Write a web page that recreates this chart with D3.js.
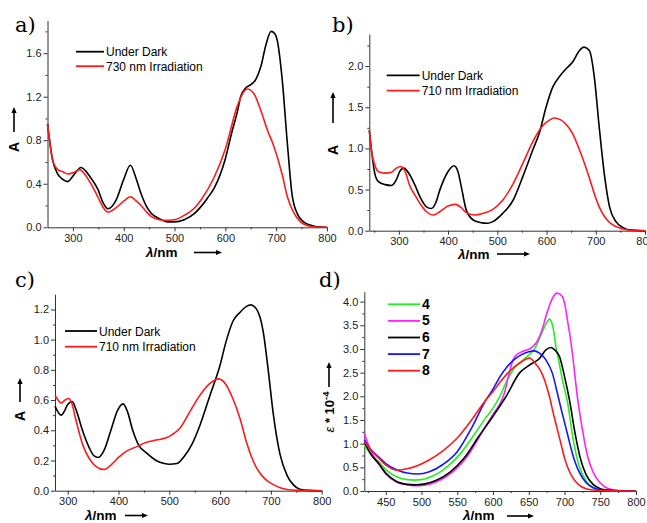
<!DOCTYPE html>
<html>
<head>
<meta charset="utf-8">
<script src="https://cdn.jsdelivr.net/npm/d3@7"></script>
<style>
body { margin: 0; background: #fff; }
svg { display: block; font-family: "Liberation Sans", Arial, sans-serif; }
.tick text { font-size: 11px; fill: #222; }
.domain, .tick line { stroke: #333; }
</style>
</head>
<body>
<div id="graph"></div>
<script>
"use strict";

let width = 647,
    height = 523;

// ---- panel a : 730 nm irradiation ----
const aDarkNm = [250,260,270,280,290,300,316,333,349,360,369,385,400,413,425,434,445,454,470,486,500,519,540,552,565,578,600,612,624,630,640,650,660,670,680,690,697,702,712,722,731,741,754,767,780,800];
const aDarkA  = [0.95,0.62,0.49,0.44,0.42,0.47,0.55,0.47,0.35,0.22,0.17,0.25,0.44,0.57,0.44,0.31,0.19,0.13,0.08,0.05,0.05,0.07,0.13,0.19,0.27,0.36,0.63,0.86,1.07,1.20,1.28,1.31,1.36,1.48,1.68,1.80,1.78,1.72,1.35,0.77,0.31,0.13,0.05,0.02,0.005,0];
const aIrrNm  = [250,260,270,280,290,300,313,333,349,360,369,385,400,413,425,434,445,454,470,480,500,519,540,552,578,600,624,637,643,656,670,683,695,712,722,735,748,767,780,800];
const aIrrA   = [0.95,0.62,0.53,0.51,0.49,0.50,0.53,0.42,0.28,0.18,0.14,0.18,0.24,0.28,0.24,0.20,0.14,0.10,0.07,0.065,0.07,0.11,0.18,0.25,0.46,0.72,1.12,1.25,1.27,1.23,1.07,0.89,0.75,0.48,0.28,0.13,0.05,0.01,0.003,0];
const aLegend = ["Under Dark", "730 nm Irradiation"];

// ---- panel b : 710 nm irradiation ----
const bDarkNm = [240,245,251,258,272,285,295,302,310,322,333,343,356,366,375,383,400,412,420,427,437,451,465,480,491,511,532,552,572,586,599,613,626,640,653,667,676,687,697,707,718,728,741,755,768,800];
const bDarkA  = [1.22,0.95,0.70,0.60,0.56,0.55,0.62,0.72,0.76,0.68,0.55,0.41,0.29,0.27,0.34,0.49,0.72,0.79,0.72,0.53,0.25,0.13,0.10,0.09,0.11,0.21,0.37,0.66,0.98,1.20,1.50,1.75,1.87,1.97,2.05,2.19,2.23,2.19,1.87,1.26,0.66,0.29,0.11,0.04,0.01,0];
const bIrrNm  = [240,245,251,258,272,285,295,303,312,322,333,343,356,370,383,400,415,427,437,455,471,491,511,532,552,572,590,605,615,628,640,653,667,677,687,697,707,718,728,741,755,770,800];
const bIrrA   = [1.22,0.95,0.80,0.72,0.70,0.71,0.76,0.78,0.73,0.55,0.43,0.33,0.23,0.19,0.23,0.30,0.32,0.28,0.22,0.19,0.21,0.26,0.37,0.57,0.82,1.08,1.26,1.34,1.37,1.35,1.29,1.18,0.98,0.82,0.64,0.45,0.29,0.17,0.10,0.05,0.02,0.005,0];
const bLegend = ["Under Dark", "710 nm Irradiation"];

// ---- panel c ----
const cDarkNm = [275,281,287,294,300,309,316,330,343,352,360,372,385,398,409,418,428,440,455,474,490,500,515,530,545,560,580,599,612,625,639,652,660,672,685,695,705,718,732,744,757,775,800];
const cDarkA  = [0.56,0.52,0.50,0.53,0.57,0.59,0.54,0.39,0.28,0.23,0.22,0.27,0.40,0.53,0.575,0.52,0.40,0.30,0.25,0.20,0.18,0.175,0.18,0.23,0.31,0.43,0.63,0.82,0.99,1.12,1.18,1.22,1.23,1.20,1.05,0.79,0.50,0.24,0.10,0.04,0.01,0.002,0];
const cIrrNm  = [275,281,287,295,302,308,316,330,343,356,372,385,400,415,435,455,474,494,505,520,540,560,580,597,612,625,639,652,660,672,685,695,705,718,740,800];
const cIrrA   = [0.63,0.60,0.58,0.60,0.61,0.58,0.47,0.30,0.21,0.16,0.14,0.17,0.22,0.26,0.29,0.32,0.335,0.35,0.37,0.41,0.52,0.63,0.71,0.74,0.70,0.61,0.48,0.32,0.24,0.15,0.09,0.06,0.04,0.02,0.005,0];
const cLegend = ["Under Dark", "710 nm Irradiation"];

// ---- panel d : compounds 4-8, eps * 10^-4 ----
const d4Nm = [420,430,440,450,465,480,490,500,515,535,555,575,590,600,610,620,630,640,652,660,665,670,675,679,684,688,692,697,704,712,720,730,740,750,770,800];
const d4E  = [0.97,0.76,0.62,0.45,0.30,0.24,0.23,0.24,0.31,0.50,0.80,1.22,1.55,1.75,2.01,2.35,2.60,2.74,2.90,3.05,3.22,3.40,3.55,3.63,3.45,3.05,2.75,2.35,1.90,1.10,0.55,0.22,0.08,0.03,0.005,0];
const d5Nm = [420,430,440,450,465,480,495,510,525,545,565,585,600,610,616,622,628,635,642,653,660,665,670,674,679,683,690,697,701,704,708,711,718,725,732,740,750,760,775,800];
const d5E  = [1.22,0.82,0.58,0.36,0.19,0.13,0.11,0.14,0.22,0.42,0.75,1.25,1.62,1.85,2.07,2.45,2.77,2.90,2.95,3.02,3.12,3.26,3.47,3.69,3.92,4.07,4.18,4.11,3.90,3.62,3.25,2.91,1.99,1.30,0.75,0.40,0.17,0.06,0.01,0];
const d6Nm = [420,430,440,450,465,480,490,505,520,540,560,580,600,618,637,651,665,674,681,687,693,700,707,715,722,730,740,750,760,780,800];
const d6E  = [1.04,0.76,0.58,0.38,0.20,0.14,0.13,0.15,0.22,0.40,0.70,1.15,1.58,1.99,2.49,2.66,2.80,2.98,3.03,2.97,2.84,2.42,1.92,1.20,0.70,0.35,0.14,0.05,0.02,0.003,0];
const d7Nm = [420,430,440,450,465,480,495,510,530,550,570,590,600,610,620,630,640,650,658,666,674,683,690,695,700,705,710,715,720,730,740,750,770,800];
const d7E  = [1.08,0.86,0.72,0.58,0.45,0.38,0.36,0.40,0.56,0.83,1.33,1.92,2.15,2.42,2.63,2.78,2.88,2.94,2.96,2.90,2.77,2.49,2.07,1.75,1.45,1.15,0.85,0.60,0.42,0.18,0.07,0.03,0.005,0];
const d8Nm = [420,430,440,450,460,467,480,495,510,530,550,570,590,600,610,620,630,640,651,660,665,672,679,685,690,695,700,705,710,720,730,740,760,800];
const d8E  = [1.04,0.86,0.70,0.55,0.46,0.44,0.47,0.54,0.65,0.85,1.12,1.50,1.92,2.10,2.30,2.48,2.62,2.73,2.81,2.68,2.58,2.35,1.99,1.60,1.30,1.00,0.70,0.48,0.32,0.13,0.05,0.02,0.005,0];
const dLegend = ["4", "5", "6", "7", "8"];

// tick values
const xTicks100 = [300,400,500,600,700,800];
const aYTicks = [0,0.4,0.8,1.2,1.6],  aYMinor = [0.2,0.6,1.0,1.4,1.8];
const bYTicks = [0,0.5,1,1.5,2],      bYMinor = [0.25,0.75,1.25,1.75,2.25];
const cYTicks = [0,0.2,0.4,0.6,0.8,1.0,1.2], cYMinor = [0.1,0.3,0.5,0.7,0.9,1.1];
const dXTicks = [450,500,550,600,650,700,750,800], dXMinor = [425,475,525,575,625,675,725,775];
const dYTicks = [0,0.5,1,1.5,2,2.5,3,3.5,4], dYMinor = [0.25,0.75,1.25,1.75,2.25,2.75,3.25,3.75];

const panels = [
    { letter: "a)", lx: 15, ly: 32,
      xDom: [250,800], xRng: [47.5,327], yDom: [0,1.9], yRng: [227.3,20.5],
      xTicks: xTicks100, xMinor: [350,450,550,650,750], yTicks: aYTicks, yMinor: aYMinor,
      series: [ {nm: aDarkNm, v: aDarkA, color: "#000"}, {nm: aIrrNm, v: aIrrA, color: "#ff1a1a"} ],
      legend: {x: 76, y: 51.7, dy: 14.5, len: 28, names: aLegend, bold: false},
      ylab: {x: 18.5, y: 147, ax: 14, ay1: 132, ay2: 107},
      xlab: {x: 146, y: 257, ax1: 194, ax2: 222, ay: 252.5} },
    { letter: "b)", lx: 332, ly: 32,
      xDom: [240,800], xRng: [369.3,645], yDom: [0,2.39], yRng: [230.7,34],
      xTicks: xTicks100, xMinor: [250,350,450,550,650,750], yTicks: bYTicks, yMinor: bYMinor,
      series: [ {nm: bDarkNm, v: bDarkA, color: "#000"}, {nm: bIrrNm, v: bIrrA, color: "#ff1a1a"} ],
      legend: {x: 386.7, y: 75.3, dy: 15.4, len: 33, names: bLegend, bold: false},
      ylab: {x: 338, y: 150, ax: 333, ay1: 123, ay2: 92},
      xlab: {x: 458, y: 259, ax1: 497, ax2: 530, ay: 254} },
    { letter: "c)", lx: 15, ly: 287,
      xDom: [275,800], xRng: [55,321.7], yDom: [0,1.3], yRng: [490.7,294.3],
      xTicks: xTicks100, xMinor: [350,450,550,650,750], yTicks: cYTicks, yMinor: cYMinor,
      series: [ {nm: cDarkNm, v: cDarkA, color: "#000"}, {nm: cIrrNm, v: cIrrA, color: "#ff1a1a"} ],
      legend: {x: 65, y: 331, dy: 15.7, len: 32, names: cLegend, bold: false},
      ylab: {x: 25, y: 416, ax: 20, ay1: 402, ay2: 378},
      xlab: {x: 85, y: 519.5, ax1: 125, ax2: 148, ay: 515.5} },
    { letter: "d)", lx: 319, ly: 287,
      xDom: [420,800], xRng: [364.3,636], yDom: [0,4.21], yRng: [491,291.7],
      xTicks: dXTicks, xMinor: dXMinor, yTicks: dYTicks, yMinor: dYMinor,
      series: [ {nm: d4Nm, v: d4E, color: "#22ee22"}, {nm: d5Nm, v: d5E, color: "#ff22ff"},
                {nm: d6Nm, v: d6E, color: "#000"},    {nm: d7Nm, v: d7E, color: "#1414ff"},
                {nm: d8Nm, v: d8E, color: "#ff1a1a"} ],
      legend: {x: 388, y: 304.3, dy: 16.6, len: 32, names: dLegend, bold: true},
      ylab: null, eps: {x: 334, y: 412, ax: 329, ay1: 387, ay2: 362},
      xlab: {x: 463, y: 520, ax1: 507, ax2: 534, ay: 516} }
];

let svg = d3.select("#graph").append("svg")
    .attr("width", width)
    .attr("height", height);

panels.forEach(p => drawPanel(p));

function drawPanel(p) {
    let g = svg.append("g");
    let x = d3.scaleLinear().domain(p.xDom).range(p.xRng);
    let y = d3.scaleLinear().domain(p.yDom).range(p.yRng);

    // minor ticks first, then the major axis on top
    g.append("g")
        .attr("transform", "translate(0," + p.yRng[0] + ")")
        .call(d3.axisBottom(x).tickValues(p.xMinor).tickSize(2).tickFormat(""))
        .call(a => a.select(".domain").remove());
    g.append("g")
        .attr("transform", "translate(" + p.xRng[0] + ",0)")
        .call(d3.axisLeft(y).tickValues(p.yMinor).tickSize(2).tickFormat(""))
        .call(a => a.select(".domain").remove());

    g.append("g")
        .attr("transform", "translate(0," + p.yRng[0] + ")")
        .call(d3.axisBottom(x).tickValues(p.xTicks).tickSize(4).tickSizeOuter(0).tickPadding(3).tickFormat(d3.format("d")));
    g.append("g")
        .attr("transform", "translate(" + p.xRng[0] + ",0)")
        .call(d3.axisLeft(y).tickValues(p.yTicks).tickSize(4).tickSizeOuter(0).tickPadding(2).tickFormat(d3.format(".1f")));

    let line = d3.line()
        .x(d => x(d[0]))
        .y(d => y(d[1]))
        .curve(d3.curveMonotoneX);

    p.series.forEach(s => {
        g.append("path")
            .datum(s.nm.map((n, i) => [n, s.v[i]]))
            .attr("fill", "none")
            .attr("stroke", s.color)
            .attr("stroke-width", 1.6)
            .attr("d", line);
    });

    // legend
    p.legend.names.forEach((name, i) => {
        let ly = p.legend.y + i * p.legend.dy;
        g.append("line")
            .attr("x1", p.legend.x).attr("x2", p.legend.x + p.legend.len)
            .attr("y1", ly).attr("y2", ly)
            .attr("stroke", p.series[i].color)
            .attr("stroke-width", 1.8);
        g.append("text")
            .attr("x", p.legend.x + p.legend.len + 2)
            .attr("y", ly + 4.5)
            .style("font-size", p.legend.bold ? "14px" : "12px")
            .style("font-weight", p.legend.bold ? "bold" : "normal")
            .text(name);
    });

    // panel letter
    svg.append("text")
        .attr("x", p.lx).attr("y", p.ly)
        .style("font-family", "'DejaVu Serif', 'Liberation Serif', serif")
        .style("font-size", "21px")
        .text(p.letter);

    // x label with arrow
    let xl = svg.append("text")
        .attr("x", p.xlab.x).attr("y", p.xlab.y)
        .style("font-size", "13.5px").style("font-weight", "bold");
    xl.append("tspan").style("font-style", "italic").text("λ");
    xl.append("tspan").text("/nm");
    arrow(p.xlab.ax1, p.xlab.ay, p.xlab.ax2, p.xlab.ay);

    // y label with arrow
    if (p.ylab) {
        svg.append("text")
            .attr("transform", "translate(" + p.ylab.x + "," + p.ylab.y + ") rotate(-90)")
            .attr("text-anchor", "middle")
            .style("font-size", "14px").style("font-weight", "bold")
            .text("A");
        arrow(p.ylab.ax, p.ylab.ay1, p.ylab.ax, p.ylab.ay2);
    }
    if (p.eps) {
        let t = svg.append("text")
            .attr("transform", "translate(" + p.eps.x + "," + p.eps.y + ") rotate(-90)")
            .attr("text-anchor", "middle")
            .style("font-size", "13px").style("font-weight", "bold");
        t.append("tspan").style("font-style", "italic").style("font-weight", "normal").text("ε");
        t.append("tspan").text(" * 10");
        t.append("tspan").attr("dy", -5).style("font-size", "9.5px").text("-4");
        arrow(p.eps.ax, p.eps.ay1, p.eps.ax, p.eps.ay2);
    }
}

function arrow(x1, y1, x2, y2) {
    let ang = Math.atan2(y2 - y1, x2 - x1);
    let hl = 6, hw = 2.6;
    let bx = x2 - hl * Math.cos(ang), by = y2 - hl * Math.sin(ang);
    svg.append("line")
        .attr("x1", x1).attr("y1", y1).attr("x2", bx).attr("y2", by)
        .attr("stroke", "#000").attr("stroke-width", 1.6);
    svg.append("path")
        .attr("d", "M" + x2 + "," + y2 +
            "L" + (bx + hw * Math.sin(ang)) + "," + (by - hw * Math.cos(ang)) +
            "L" + (bx - hw * Math.sin(ang)) + "," + (by + hw * Math.cos(ang)) + "Z")
        .attr("fill", "#000");
}
</script>
</body>
</html>
